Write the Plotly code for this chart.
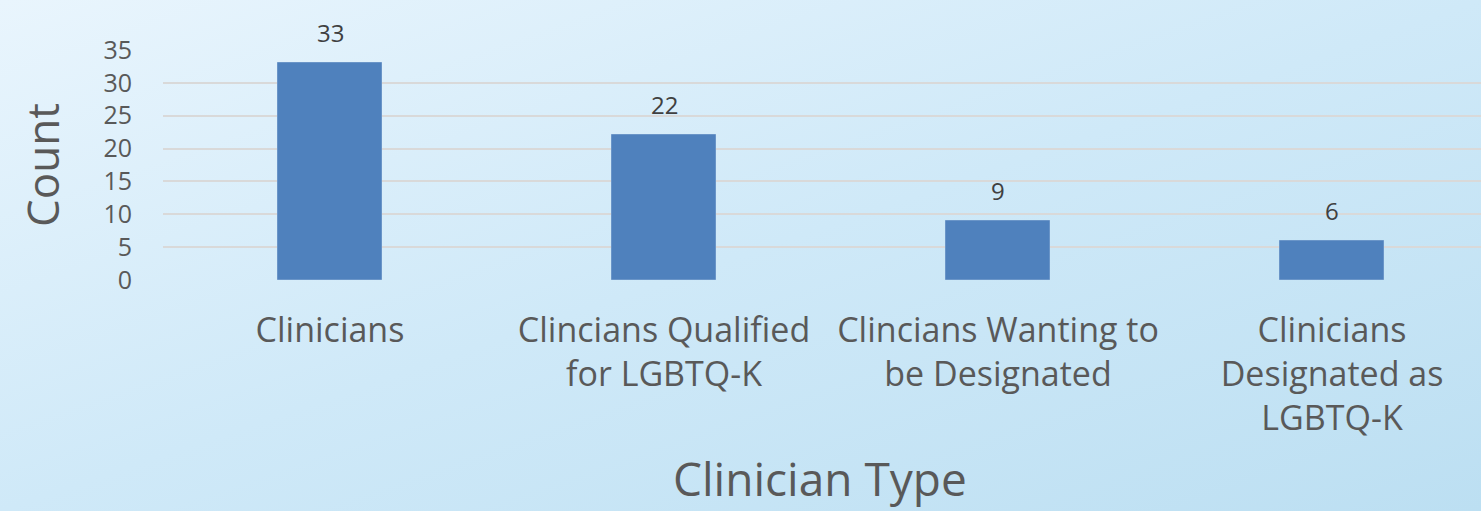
import base64
import plotly.graph_objects as go

categories = [
    "Clinicians",
    "Clincians Qualified<br>for LGBTQ-K",
    "Clincians Wanting to<br>be Designated",
    "Clinicians<br>Designated as<br>LGBTQ-K",
]
counts = [33, 22, 9, 6]
y_ticks = [0, 5, 10, 15, 20, 25, 30, 35]
x_title = "Clinician Type"
y_title = "Count"

FONT = "Open Sans"
TXT = "#595959"

svg = (
    '<svg xmlns="http://www.w3.org/2000/svg" width="1481" height="511">'
    '<defs><linearGradient id="g" x1="0" y1="0" x2="1" y2="1">'
    '<stop offset="0" stop-color="#e9f5fd"/>'
    '<stop offset="0.5" stop-color="#cfe9f8"/>'
    '<stop offset="1" stop-color="#bcdff2"/>'
    '</linearGradient></defs>'
    '<rect width="1481" height="511" fill="url(#g)"/></svg>'
)
bg_uri = "data:image/svg+xml;base64," + base64.b64encode(svg.encode()).decode()

fig = go.Figure(
    go.Bar(
        x=categories,
        y=counts,
        width=0.31,
        marker=dict(color="#4f81bd", line=dict(color="#6a95c8", width=1)),
        cliponaxis=False,
        hoverinfo="x+y",
    )
)

for c, v in zip(categories, counts):
    fig.add_annotation(
        x=c, y=v, text=str(v), showarrow=False,
        xref="x", yref="y", yanchor="bottom", yshift=12,
        font=dict(family=FONT, size=24, color="#404040"),
    )

# x-axis title as a paper-anchored annotation near the bottom edge
fig.add_annotation(
    text=x_title, showarrow=False,
    xref="paper", yref="paper",
    x=(820 - 163) / 1318, y=0, yshift=-(511 - 280),
    xanchor="center", yanchor="bottom",
    font=dict(family=FONT, size=46, color=TXT),
)

fig.update_layout(
    width=1481,
    height=511,
    margin=dict(l=163, r=0, t=50, b=231),
    paper_bgcolor="#d3ebf8",
    plot_bgcolor="rgba(0,0,0,0)",
    showlegend=False,
    font=dict(family=FONT, color=TXT),
    images=[
        dict(
            source=bg_uri,
            xref="paper", yref="paper",
            x=-163 / 1318, y=1 + 50 / 230,
            sizex=1481 / 1318, sizey=511 / 230,
            xanchor="left", yanchor="top",
            sizing="stretch",
            layer="below",
        )
    ],
    xaxis=dict(
        range=[-0.5, 3.446],
        showgrid=False,
        zeroline=False,
        showline=False,
        tickfont=dict(family=FONT, size=34, color=TXT),
        ticklabelstandoff=27,
    ),
    yaxis=dict(
        range=[0, 35],
        tickvals=y_ticks,
        ticktext=[str(v) for v in y_ticks],
        showgrid=True,
        gridcolor="#d9d9d9",
        gridwidth=2,
        zeroline=False,
        showline=False,
        tickfont=dict(family=FONT, size=25, color=TXT),
        ticklabelstandoff=30,
        title=dict(text=y_title, font=dict(family=FONT, size=44, color=TXT), standoff=30),
    ),
    bargap=0,
)

fig.write_html(
    "out.html",
    config={"displayModeBar": False},
    post_script="document.body.style.margin='0';document.body.style.overflow='hidden';",
)
